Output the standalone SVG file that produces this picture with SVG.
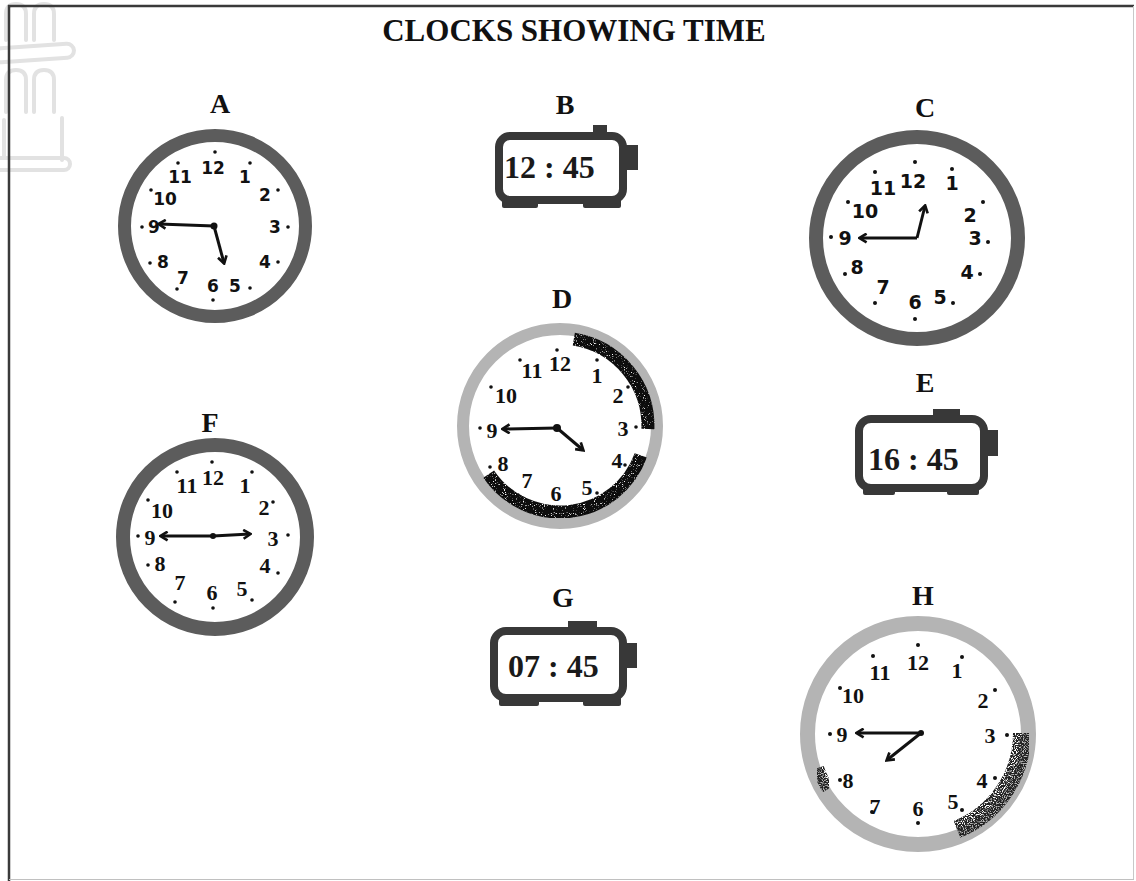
<svg xmlns="http://www.w3.org/2000/svg" width="1136" height="881" viewBox="0 0 1136 881">
<style>
.title{font-family:"Liberation Serif","Times New Roman",serif;font-weight:bold;font-size:31px;fill:#111;text-anchor:middle}
.lbl{font-family:"Liberation Serif","Times New Roman",serif;font-weight:bold;font-size:28px;fill:#111;text-anchor:middle}
.ns{font-family:"DejaVu Sans",Verdana,sans-serif;font-weight:bold;fill:#111;text-anchor:middle;dominant-baseline:central}
.nr{font-family:"Liberation Serif","Times New Roman",serif;font-weight:bold;font-size:22px;fill:#111;text-anchor:middle;dominant-baseline:central}
.dig{font-family:"Liberation Serif","Times New Roman",serif;font-weight:bold;font-size:32px;fill:#1a1a1a}
.ringD{fill:#fff;stroke:#5c5c5c}
.ringL{fill:#fff;stroke:#b4b4b4}
.hand{stroke:#111;stroke-width:3;fill:none;marker-end:url(#ah)}
.dot{fill:#111}
.body{fill:#fff;stroke:#383838;stroke-width:8}
.tab{fill:#383838}
.wm{fill:none;stroke:#e2e2e2;stroke-width:4;stroke-linecap:round}
</style>
<defs>
<marker id="ah" viewBox="0 0 10 10" refX="8" refY="5" markerWidth="11" markerHeight="11" orient="auto" markerUnits="userSpaceOnUse">
<path d="M2,1 L8.5,5 L2,9" fill="none" stroke="#111" stroke-width="2.4"/>
</marker>
<filter id="speckD" x="-10%" y="-10%" width="120%" height="120%">
<feTurbulence type="fractalNoise" baseFrequency="0.9" numOctaves="1" seed="4" result="n"/>
<feColorMatrix in="n" type="matrix" values="0 0 0 0 0 0 0 0 0 0 0 0 0 0 0 7 0 0 0 -1.8" result="m"/>
<feComposite in="SourceGraphic" in2="m" operator="in"/>
</filter>
<filter id="speckH" x="-10%" y="-10%" width="120%" height="120%">
<feTurbulence type="fractalNoise" baseFrequency="0.9" numOctaves="1" seed="7" result="n"/>
<feColorMatrix in="n" type="matrix" values="0 0 0 0 0 0 0 0 0 0 0 0 0 0 0 7 0 0 0 -2.6" result="m"/>
<feComposite in="SourceGraphic" in2="m" operator="in"/>
</filter>
</defs>
<rect width="1136" height="881" fill="#fff"/>

<g id="watermark">
<path class="wm" d="M6,40 V14 Q6,4 16,4 Q26,4 26,14 V40 M34,40 V14 Q34,4 44,4 Q54,4 54,14 V40"/>
<rect class="wm" x="-6" y="46" width="80" height="14" rx="7" transform="rotate(-4 34 53)"/>
<path class="wm" d="M6,112 V80 Q6,70 16,70 Q26,70 26,80 V112 M34,112 V80 Q34,70 44,70 Q54,70 54,80 V112"/>
<path class="wm" d="M4,120 V158 M62,118 V160"/>
<rect class="wm" x="-6" y="158" width="76" height="12" rx="6"/>
</g>

<g id="frame">
<line x1="8" y1="6" x2="1134" y2="6" stroke="#3a3a3a" stroke-width="2.5"/>
<line x1="9" y1="5" x2="9" y2="881" stroke="#3a3a3a" stroke-width="2.5"/>
<line x1="1133.5" y1="6" x2="1133.5" y2="880" stroke="#c8c8c8" stroke-width="1"/>
<line x1="9" y1="879.5" x2="1134" y2="879.5" stroke="#c0c0c0" stroke-width="1"/>
</g>

<text class="title" x="574" y="41">CLOCKS SHOWING TIME</text>

<g id="clockA">
<text class="lbl" x="220" y="113">A</text>
<circle class="ringD" cx="215" cy="226" r="90.5" stroke-width="13"/>
<g class="ns" font-size="17">
<text x="213" y="168">12</text><text x="180" y="177">11</text><text x="245" y="177">1</text>
<text x="165" y="199">10</text><text x="265" y="195">2</text><text x="154" y="227">9</text>
<text x="275" y="227">3</text><text x="163" y="262">8</text><text x="265" y="262">4</text>
<text x="183" y="278">7</text><text x="213" y="286">6</text><text x="235" y="286">5</text>
</g>
<g class="dot">
<circle cx="215" cy="152" r="1.8"/><circle cx="178" cy="163" r="1.8"/><circle cx="250" cy="163" r="1.8"/>
<circle cx="151" cy="190" r="1.8"/><circle cx="278" cy="190" r="1.8"/><circle cx="142" cy="227" r="1.8"/>
<circle cx="288" cy="227" r="1.8"/><circle cx="150" cy="263" r="1.8"/><circle cx="278" cy="262" r="1.8"/>
<circle cx="177" cy="289" r="1.8"/><circle cx="213" cy="300" r="1.8"/><circle cx="250" cy="288" r="1.8"/>
</g>
<line class="hand" x1="214" y1="226" x2="159" y2="224"/>
<line class="hand" x1="214" y1="226" x2="224" y2="263"/>
<circle class="dot" cx="214" cy="226" r="3.5"/>
</g>

<g id="clockB">
<text class="lbl" x="565" y="114">B</text>
<rect class="tab" x="593" y="125" width="14" height="12"/>
<rect class="tab" x="624" y="145" width="14" height="25"/>
<rect class="tab" x="502" y="196" width="36" height="12" rx="2"/>
<rect class="tab" x="583" y="196" width="38" height="12" rx="2"/>
<rect class="body" x="499" y="136" width="124" height="64" rx="11"/>
<text class="dig" x="504" y="178">12 : 45</text>
</g>

<g id="clockC">
<text class="lbl" x="925" y="117">C</text>
<circle class="ringD" cx="917" cy="238" r="101" stroke-width="14"/>
<g class="ns" font-size="19">
<text x="913" y="181">12</text><text x="883" y="188">11</text><text x="952" y="183">1</text>
<text x="865" y="211">10</text><text x="970" y="215">2</text><text x="845" y="238">9</text>
<text x="975" y="238">3</text><text x="857" y="267">8</text><text x="967" y="272">4</text>
<text x="883" y="287">7</text><text x="915" y="302">6</text><text x="940" y="297">5</text>
</g>
<g class="dot">
<circle cx="915" cy="162" r="2"/><circle cx="875" cy="172" r="2"/><circle cx="952" cy="169" r="2"/>
<circle cx="848" cy="202" r="2"/><circle cx="983" cy="202" r="2"/><circle cx="831" cy="237" r="2"/>
<circle cx="988" cy="242" r="2"/><circle cx="845" cy="274" r="2"/><circle cx="980" cy="274" r="2"/>
<circle cx="875" cy="303" r="2"/><circle cx="915" cy="319" r="2"/><circle cx="953" cy="303" r="2"/>
</g>
<line class="hand" x1="917" y1="238" x2="860" y2="238" stroke-width="3.5"/>
<line class="hand" x1="917" y1="238" x2="925" y2="206" stroke-width="3.5"/>
</g>

<g id="clockD">
<text class="lbl" x="562" y="308">D</text>
<circle class="ringL" cx="560" cy="426" r="97" stroke-width="12"/>
<path d="M573.8,339.1 A88,88 0 0 1 647.9,429.1" fill="none" stroke="#111" stroke-width="13" filter="url(#speckD)"/>
<path d="M640.8,455.4 A86,86 0 0 1 488.7,474.1" fill="none" stroke="#111" stroke-width="13" filter="url(#speckD)"/>
<g class="nr">
<text x="560" y="363">12</text><text x="532" y="370">11</text><text x="597" y="375">1</text>
<text x="506" y="395">10</text><text x="618" y="395">2</text><text x="492" y="430">9</text>
<text x="623" y="428">3</text><text x="503" y="463">8</text><text x="617" y="460">4</text>
<text x="527" y="480">7</text><text x="556" y="493">6</text><text x="587" y="487">5</text>
</g>
<g class="dot">
<circle cx="557" cy="350" r="1.8"/><circle cx="520" cy="360" r="1.8"/><circle cx="597" cy="360" r="1.8"/>
<circle cx="491" cy="387" r="1.8"/><circle cx="628" cy="387" r="1.8"/><circle cx="480" cy="428" r="1.8"/>
<circle cx="636" cy="427" r="1.8"/><circle cx="490" cy="467" r="1.8"/><circle cx="625" cy="465" r="1.8"/>
<circle cx="518" cy="495" r="1.8"/><circle cx="557" cy="508" r="1.8"/><circle cx="597" cy="493" r="1.8"/>
</g>
<line class="hand" x1="557" y1="428" x2="503" y2="429" stroke-width="2.2"/>
<line class="hand" x1="557" y1="428" x2="583" y2="450" stroke-width="3.5"/>
<circle class="dot" cx="557" cy="428" r="4"/>
</g>

<g id="clockE">
<text class="lbl" x="925" y="392">E</text>
<rect class="tab" x="933" y="409" width="27" height="10"/>
<rect class="tab" x="984" y="430" width="14" height="26"/>
<rect class="tab" x="863" y="484" width="32" height="11" rx="2"/>
<rect class="tab" x="947" y="484" width="32" height="11" rx="2"/>
<rect class="body" x="859" y="419" width="125" height="69" rx="12"/>
<text class="dig" x="868" y="470">16 : 45</text>
</g>

<g id="clockF">
<text class="lbl" x="210" y="432">F</text>
<circle class="ringD" cx="215" cy="537" r="92" stroke-width="14"/>
<g class="nr">
<text x="213" y="477">12</text><text x="187" y="485">11</text><text x="245" y="485">1</text>
<text x="162" y="510">10</text><text x="264" y="507">2</text><text x="150" y="537">9</text>
<text x="273" y="538">3</text><text x="160" y="563">8</text><text x="265" y="565">4</text>
<text x="180" y="582">7</text><text x="212" y="592">6</text><text x="242" y="588">5</text>
</g>
<g class="dot">
<circle cx="212" cy="462" r="1.8"/><circle cx="177" cy="472" r="1.8"/><circle cx="252" cy="472" r="1.8"/>
<circle cx="148" cy="500" r="1.8"/><circle cx="273" cy="502" r="1.8"/><circle cx="138" cy="536" r="1.8"/>
<circle cx="288" cy="535" r="1.8"/><circle cx="148" cy="565" r="1.8"/><circle cx="278" cy="573" r="1.8"/>
<circle cx="175" cy="602" r="1.8"/><circle cx="213" cy="608" r="1.8"/><circle cx="252" cy="600" r="1.8"/>
</g>
<line class="hand" x1="213" y1="536" x2="161" y2="536"/>
<line class="hand" x1="213" y1="536" x2="250" y2="534" stroke-width="2.4"/>
<circle class="dot" cx="213" cy="536" r="3"/>
</g>

<g id="clockG">
<text class="lbl" x="563" y="607">G</text>
<rect class="tab" x="568" y="621" width="29" height="11"/>
<rect class="tab" x="623" y="643" width="14" height="25"/>
<rect class="tab" x="499" y="694" width="40" height="12" rx="2"/>
<rect class="tab" x="583" y="694" width="38" height="12" rx="2"/>
<rect class="body" x="494" y="631" width="129" height="67" rx="12"/>
<text class="dig" x="508" y="677">07 : 45</text>
</g>

<g id="clockH">
<text class="lbl" x="923" y="605">H</text>
<circle class="ringL" cx="918" cy="734" r="110.5" stroke-width="15"/>
<path d="M1022,733 A104,104 0 0 1 957,829.4" fill="none" stroke="#222" stroke-width="18" filter="url(#speckH)"/>
<path d="M828,789 A104,104 0 0 1 818,768" fill="none" stroke="#222" stroke-width="12" filter="url(#speckH)"/>
<g class="nr">
<text x="918" y="662">12</text><text x="880" y="672">11</text><text x="957" y="670">1</text>
<text x="853" y="695">10</text><text x="983" y="700">2</text><text x="842" y="734">9</text>
<text x="990" y="735">3</text><text x="848" y="780">8</text><text x="982" y="780">4</text>
<text x="875" y="806">7</text><text x="918" y="808">6</text><text x="953" y="801">5</text>
</g>
<g class="dot">
<circle cx="918" cy="645" r="2"/><circle cx="873" cy="656" r="2"/><circle cx="962" cy="657" r="2"/>
<circle cx="840" cy="688" r="2"/><circle cx="995" cy="690" r="2"/><circle cx="830" cy="734" r="2"/>
<circle cx="1007" cy="735" r="2"/><circle cx="840" cy="780" r="2"/><circle cx="995" cy="778" r="2"/>
<circle cx="872" cy="812" r="2"/><circle cx="918" cy="823" r="2"/><circle cx="962" cy="810" r="2"/>
</g>
<line class="hand" x1="921" y1="733" x2="857" y2="733" stroke-width="2.6"/>
<line class="hand" x1="921" y1="733" x2="887" y2="760" stroke-width="3.5"/>
<circle class="dot" cx="921" cy="733" r="3"/>
</g>
</svg>
